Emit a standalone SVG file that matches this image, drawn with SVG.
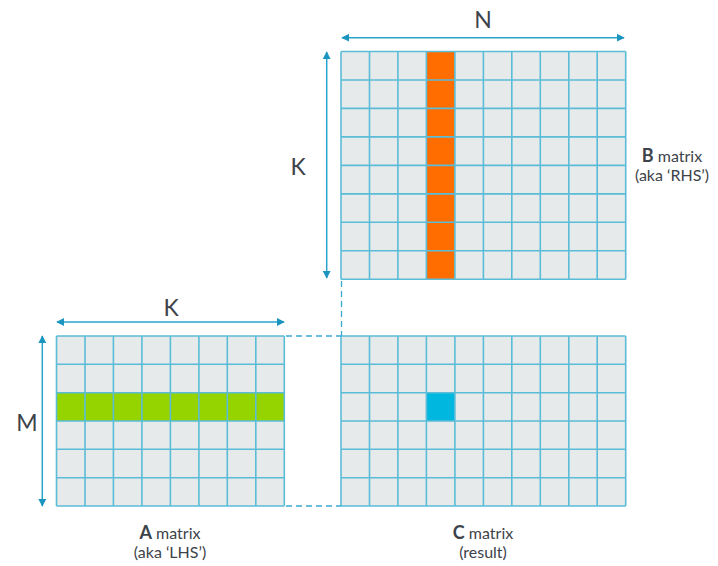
<svg xmlns="http://www.w3.org/2000/svg" width="718" height="566" viewBox="0 0 718 566">
<defs>
<style>
.bg{fill:#e6eaea}
.grid{fill:none;stroke:#5bbcd8;stroke-width:1.6}
.arr{stroke:#27a3cc;stroke-width:1.5;fill:none}
.dash{stroke:#3aa9d0;stroke-width:1.3;fill:none;stroke-dasharray:6,4}
.dim{font-family:Lato,"Noto Sans",sans-serif;font-size:23px;fill:#3d434a;text-anchor:middle}
.lbl{font-family:Lato,"Noto Sans",sans-serif;font-size:16px;fill:#3d434a;text-anchor:middle}
.b{font-weight:bold;font-size:18px}
</style>
<marker id="ah" viewBox="0 0 10 10" refX="9" refY="5" markerWidth="8" markerHeight="8" markerUnits="userSpaceOnUse" orient="auto-start-reverse">
<path d="M0,0 L10,5 L0,10 Z" fill="#1b95c0"/>
</marker>
</defs>
<rect width="718" height="566" fill="#ffffff"/>

<g id="matrixB">
<rect class="bg" x="341" y="51.5" width="284.7" height="227.8"/>
<rect x="426.4" y="51.5" width="28.5" height="227.8" fill="#ff6c00"/>
<path class="grid" d="M341,51.5V279.3M369.5,51.5V279.3M397.9,51.5V279.3M426.4,51.5V279.3M454.9,51.5V279.3M483.4,51.5V279.3M511.8,51.5V279.3M540.3,51.5V279.3M568.8,51.5V279.3M597.2,51.5V279.3M625.7,51.5V279.3M341,51.5H625.7M341,80H625.7M341,108.4H625.7M341,136.9H625.7M341,165.4H625.7M341,193.9H625.7M341,222.3H625.7M341,250.8H625.7M341,279.3H625.7"/>
<text class="lbl" x="672" y="162"><tspan class="b">B</tspan> matrix</text>
<text class="lbl" x="672" y="181">(aka ‘RHS’)</text>
</g>

<g id="matrixC">
<rect class="bg" x="341" y="336" width="284.7" height="170"/>
<rect x="426.4" y="392.7" width="28.5" height="28.3" fill="#00b8df"/>
<path class="grid" d="M341,336V506M369.5,336V506M397.9,336V506M426.4,336V506M454.9,336V506M483.4,336V506M511.8,336V506M540.3,336V506M568.8,336V506M597.2,336V506M625.7,336V506M341,336H625.7M341,364.3H625.7M341,392.7H625.7M341,421H625.7M341,449.3H625.7M341,477.7H625.7M341,506H625.7"/>
<text class="lbl" x="483" y="539"><tspan class="b">C</tspan> matrix</text>
<text class="lbl" x="483" y="558">(result)</text>
</g>

<g id="matrixA">
<rect class="bg" x="56.5" y="336" width="227.8" height="170"/>
<rect x="56.5" y="392.7" width="227.8" height="28.3" fill="#96d400"/>
<path class="grid" d="M56.5,336V506M85,336V506M113.4,336V506M141.9,336V506M170.4,336V506M198.9,336V506M227.3,336V506M255.8,336V506M284.3,336V506M56.5,336H284.3M56.5,364.3H284.3M56.5,392.7H284.3M56.5,421H284.3M56.5,449.3H284.3M56.5,477.7H284.3M56.5,506H284.3"/>
<text class="lbl" x="170" y="539"><tspan class="b">A</tspan> matrix</text>
<text class="lbl" x="170" y="558">(aka ‘LHS’)</text>
</g>

<g id="connectors">
<line class="arr" x1="342" y1="37.7" x2="624" y2="37.7" marker-start="url(#ah)" marker-end="url(#ah)"/>
<line class="arr" x1="326.7" y1="52" x2="326.7" y2="278" marker-start="url(#ah)" marker-end="url(#ah)"/>
<line class="arr" x1="57" y1="322" x2="284" y2="322" marker-start="url(#ah)" marker-end="url(#ah)"/>
<line class="arr" x1="42.3" y1="336" x2="42.3" y2="506" marker-start="url(#ah)" marker-end="url(#ah)"/>
<line class="dash" x1="341.5" y1="281" x2="341.5" y2="336"/>
<line class="dash" x1="286" y1="336" x2="341" y2="336"/>
<line class="dash" x1="286" y1="506" x2="341" y2="506"/>
</g>

<g id="dims">
<text class="dim" x="483" y="28">N</text>
<text class="dim" x="298" y="175">K</text>
<text class="dim" x="171" y="316">K</text>
<text class="dim" x="27" y="431">M</text>
</g>
</svg>
